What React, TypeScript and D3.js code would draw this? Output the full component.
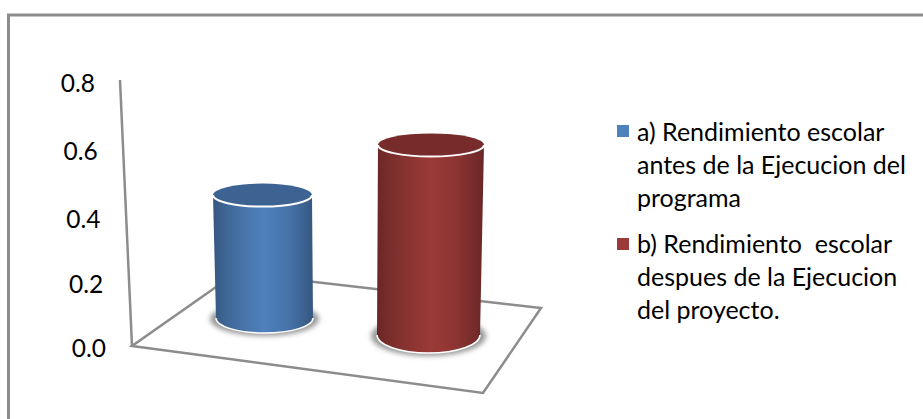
import React from "react";
import * as d3 from "d3";

const categories = ["a", "b"];
const values = [0.374, 0.578];
const tickLabels = [0, 0.2, 0.4, 0.6, 0.8];
const tickRows = [348, 284, 219, 151, 83];
const seriesColors = ["#4f81bd", "#9b3a38"];
const legendLines = [
  ["a) Rendimiento escolar", "antes de la Ejecucion del", "programa"],
  ["b) Rendimiento  escolar", "despues de la Ejecucion", "del proyecto."],
];

const FONT = "Lato, Carlito, sans-serif";
const GREY = "#8c8c8c";

const yLabel = d3.scaleLinear().domain(tickLabels).range(tickRows);
const yHeight = d3.scaleLinear().domain([0, 0.8]).range([0, 263]);
const xLabelEnd = d3.scaleLinear().domain([0, 0.8]).range([106, 95]);
const point = (a: number, b: number) => d3.scalePoint<string>().domain(categories).range([a, b]);
const baseX = point(264.5, 428.5);
const topX = point(262.5, 431);
const baseY = point(318, 335);
const baseRy = point(15, 18);
const baseHalf = point(48.5, 51.5);
const topHalf = point(49.5, 53);

const floor: [number, number][] = [[132, 346], [483, 393], [541, 308], [236, 273]];
const wallTop: [number, number] = [120, 80];
const frame: [number, number][] = [[8.5, 419], [8.5, 15], [923, 15]];
const line = d3.line();

export default function App() {
  return (
    <svg width={923} height={419} style={{ position: "absolute", left: 0, top: 0, background: "#fff" }}>
      <defs>
        {categories.map((c, i) => {
          const col = d3.color(seriesColors[i])!;
          return (
            <linearGradient key={c} id={`g${i}`} x1="0" x2="1" y1="0" y2="0">
              <stop offset="0" stopColor={col.darker(1.1).formatHex()} />
              <stop offset="0.15" stopColor={col.darker(0.6).formatHex()} />
              <stop offset="0.5" stopColor={col.formatHex()} />
              <stop offset="0.75" stopColor={col.darker(0.3).formatHex()} />
              <stop offset="1" stopColor={col.darker(1.1).formatHex()} />
            </linearGradient>
          );
        })}
        <filter id="blur" x="-20%" y="-40%" width="140%" height="180%">
          <feGaussianBlur stdDeviation="2.5" />
        </filter>
      </defs>
      <path d={line(frame)!} fill="none" stroke={GREY} strokeWidth={3} />
      <path d={line([wallTop, floor[0]])!} fill="none" stroke={GREY} strokeWidth={2.5} />
      <path d={line(floor)! + "Z"} fill="none" stroke={GREY} strokeWidth={2.5} />
      {tickLabels.map((t) => (
        <text key={t} x={xLabelEnd(t)} y={yLabel(t)} dy="0.35em" textAnchor="end" fontFamily={FONT} fontSize={24.5} fill="#000">
          {t.toFixed(1)}
        </text>
      ))}
      {categories.map((c, i) => {
        const bx = baseX(c)!;
        const tx = topX(c)!;
        const by = baseY(c)!;
        const ry = baseRy(c)!;
        const bh = baseHalf(c)!;
        const th = topHalf(c)!;
        const top = by - yHeight(values[i]);
        const tr = 11.5;
        const side = `M${tx - th},${top}L${bx - bh},${by}A${bh},${ry} 0 0 0 ${bx + bh},${by}L${tx + th},${top}Z`;
        const fill = d3.color(seriesColors[i])!.darker(0.75).formatHex();
        return (
          <g key={c}>
            <ellipse cx={bx} cy={by + 1} rx={bh + 6} ry={ry + 2} fill="#999" filter="url(#blur)" />
            <path d={side} fill={`url(#g${i})`} />
            <path
              d={`M${bx - bh},${by}A${bh},${ry} 0 0 0 ${bx + bh},${by}`}
              fill="none"
              stroke="#fff"
              strokeWidth={1.5}
            />
            <ellipse cx={tx} cy={top} rx={th} ry={tr} fill={fill} />
            <path
              d={`M${tx - th},${top}A${th},${tr} 0 0 0 ${tx + th},${top}`}
              fill="none"
              stroke="#fff"
              strokeWidth={2}
            />
          </g>
        );
      })}
      {legendLines.map((lines, i) => (
        <g key={i}>
          <rect x={617} y={i === 0 ? 125 : 238} width={12} height={12} fill={seriesColors[i]} />
          {lines.map((l, j) => (
            <text
              key={j}
              x={637}
              y={(i === 0 ? 141 : 253) + j * 33}
              fontFamily={FONT}
              fontSize={25}
              fill="#000"
              style={{ whiteSpace: "pre" }}
            >
              {l}
            </text>
          ))}
        </g>
      ))}
    </svg>
  );
}
